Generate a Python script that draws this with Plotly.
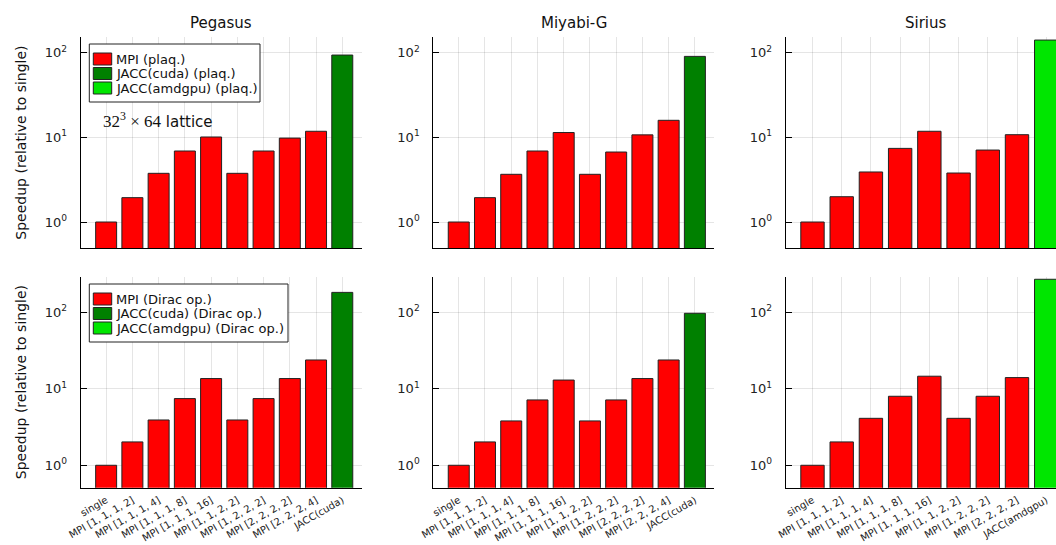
import plotly.graph_objects as go

# ---------------- data ----------------
cats_cuda = ["single", "MPI [1, 1, 1, 2]", "MPI [1, 1, 1, 4]", "MPI [1, 1, 1, 8]",
             "MPI [1, 1, 1, 16]", "MPI [1, 1, 2, 2]", "MPI [1, 2, 2, 2]",
             "MPI [2, 2, 2, 2]", "MPI [2, 2, 2, 4]", "JACC(cuda)"]
cats_amd = ["single", "MPI [1, 1, 1, 2]", "MPI [1, 1, 1, 4]", "MPI [1, 1, 1, 8]",
            "MPI [1, 1, 1, 16]", "MPI [1, 1, 2, 2]", "MPI [1, 2, 2, 2]",
            "MPI [2, 2, 2, 2]", "JACC(amdgpu)"]

titles = ["Pegasus", "Miyabi-G", "Sirius"]

peg_plaq_mpi = [1.0, 1.94, 3.76, 6.9, 10.1, 3.76, 6.9, 9.8, 11.8]
peg_plaq_jacc = [93.8]
miy_plaq_mpi = [1.0, 1.94, 3.66, 6.9, 11.4, 3.66, 6.71, 10.7, 15.9]
miy_plaq_jacc = [90.5]
sir_plaq_mpi = [1.0, 1.99, 3.90, 7.41, 11.8, 3.79, 7.08, 10.75]
sir_plaq_jacc = [141.0]

peg_dirac_mpi = [1.0, 2.02, 3.91, 7.44, 13.6, 3.91, 7.44, 13.6, 23.8]
peg_dirac_jacc = [182.0]
miy_dirac_mpi = [1.0, 2.02, 3.80, 7.15, 13.0, 3.80, 7.15, 13.6, 23.8]
miy_dirac_jacc = [97.0]
sir_dirac_mpi = [1.0, 2.02, 4.11, 7.98, 14.6, 4.11, 7.98, 14.0]
sir_dirac_jacc = [270.0]

legend_plaq = ["MPI (plaq.)", "JACC(cuda) (plaq.)", "JACC(amdgpu) (plaq.)"]
legend_dirac = ["MPI (Dirac op.)", "JACC(cuda) (Dirac op.)", "JACC(amdgpu) (Dirac op.)"]

ytick_vals = [1, 10, 100]
ytick_text = ["10<sup>0</sup>", "10<sup>1</sup>", "10<sup>2</sup>"]

# ---------------- styling ----------------
W, H = 1056, 545
RED = "#FF0000"
GREEN = "#008000"
LIME = "#00E600"
EDGE = "#222222"
GRID = "rgba(0,0,0,0.10)"
FONT = "DejaVu Sans"
legend_colors = [RED, GREEN, LIME]

def fx(p):
    return p / W

def fy(p):
    return 1 - p / H

col_x = [(80.7, 361.7), (433.3, 714.3), (785.7, 1056.0)]
row_y = [(37.3, 248.0), (276.7, 487.7)]
x_ranges = [[-0.97, 9.74], [-0.97, 9.74], [-0.917, 8.335]]
y_ranges = [[-0.307, 2.182], [-0.293, 2.465]]

panels = [
    # (row, col, cats, mpi, jacc, jacc_color, mpi_name, jacc_name)
    (0, 0, cats_cuda, peg_plaq_mpi, peg_plaq_jacc, GREEN, legend_plaq[0], legend_plaq[1]),
    (0, 1, cats_cuda, miy_plaq_mpi, miy_plaq_jacc, GREEN, legend_plaq[0], legend_plaq[1]),
    (0, 2, cats_amd, sir_plaq_mpi, sir_plaq_jacc, LIME, legend_plaq[0], legend_plaq[2]),
    (1, 0, cats_cuda, peg_dirac_mpi, peg_dirac_jacc, GREEN, legend_dirac[0], legend_dirac[1]),
    (1, 1, cats_cuda, miy_dirac_mpi, miy_dirac_jacc, GREEN, legend_dirac[0], legend_dirac[1]),
    (1, 2, cats_amd, sir_dirac_mpi, sir_dirac_jacc, LIME, legend_dirac[0], legend_dirac[2]),
]

fig = go.Figure()
layout = {}
for i, (r, c, cats, mpi, jacc, jcol, mname, jname) in enumerate(panels):
    k = i + 1
    xa = "x" if k == 1 else f"x{k}"
    ya = "y" if k == 1 else f"y{k}"
    fig.add_trace(go.Bar(x=cats[:-1], y=mpi, name=mname, xaxis=xa, yaxis=ya,
                         marker=dict(color=RED, line=dict(color=EDGE, width=1)),
                         width=0.8, showlegend=False))
    fig.add_trace(go.Bar(x=cats[-1:], y=jacc, name=jname, xaxis=xa, yaxis=ya,
                         marker=dict(color=jcol, line=dict(color=EDGE, width=1)),
                         width=0.8, showlegend=False))
    xkey = "xaxis" if k == 1 else f"xaxis{k}"
    ykey = "yaxis" if k == 1 else f"yaxis{k}"
    x0, x1 = col_x[c]
    y0, y1 = row_y[r]
    layout[xkey] = dict(
        domain=[fx(x0), fx(x1)], anchor=ya, type="category", automargin=False,
        categoryorder="array", categoryarray=cats, range=x_ranges[c],
        showline=True, linecolor="black", linewidth=1, mirror=False,
        showgrid=True, gridcolor=GRID, gridwidth=1, zeroline=False,
        ticks="", tickangle=-30, showticklabels=(r == 1), ticklabelstandoff=2,
        tickfont=dict(family=FONT, size=10, color="#222"),
    )
    layout[ykey] = dict(
        domain=[fy(y1), fy(y0)], anchor=xa, type="log", range=y_ranges[r],
        automargin=False, tickvals=ytick_vals, ticktext=ytick_text,
        showline=True, linecolor="black", linewidth=1, mirror=False,
        showgrid=True, gridcolor=GRID, gridwidth=1, zeroline=False,
        ticks="inside", ticklen=6, tickcolor="black", ticklabelstandoff=10,
        tickfont=dict(family=FONT, size=13, color="#222"),
    )

annotations = []
shapes = []
for c, t in enumerate(titles):
    x0, x1 = col_x[c]
    cx = (x0 + x1) / 2 if c < 2 else 926
    annotations.append(dict(text=t, x=fx(cx), y=fy(23), xref="paper", yref="paper",
                            showarrow=False, xanchor="center", yanchor="middle",
                            font=dict(family=FONT, size=15, color="#111")))
for r in range(2):
    y0, y1 = row_y[r]
    annotations.append(dict(text="Speedup (relative to single)", x=fx(21), y=fy((y0 + y1) / 2),
                            xref="paper", yref="paper", showarrow=False, textangle=-90,
                            xanchor="center", yanchor="middle",
                            font=dict(family=FONT, size=14, color="#111")))
annotations.append(dict(
    text='<span style="font-family:Liberation Serif;font-size:17px">32<sup>3</sup> × 64</span> lattice',
    x=fx(101), y=fy(120), xref="paper", yref="paper", showarrow=False,
    xanchor="left", yanchor="middle", font=dict(family=FONT, size=15, color="#111")))

# legends (drawn as boxes + swatches + labels)
legend_boxes = [((89.3, 44.0), (260.0, 102.0), legend_plaq),
                ((89.3, 284.0), (288.0, 342.0), legend_dirac)]
for (bx0, by0), (bx1, by1), labels in legend_boxes:
    shapes.append(dict(type="rect", xref="paper", yref="paper",
                       x0=fx(bx0), x1=fx(bx1), y0=fy(by1), y1=fy(by0),
                       line=dict(color="#222", width=1), fillcolor="white", layer="above"))
    for j, (lab, colr) in enumerate(zip(labels, legend_colors)):
        cy = by0 + 15 + 14.5 * j
        shapes.append(dict(type="rect", xref="paper", yref="paper",
                           x0=fx(93.3), x1=fx(111.7), y0=fy(cy + 6), y1=fy(cy - 6),
                           line=dict(color="#222", width=1), fillcolor=colr, layer="above"))
        annotations.append(dict(text=lab, x=fx(113.5), y=fy(cy), xref="paper", yref="paper",
                                showarrow=False, xanchor="left", yanchor="middle",
                                font=dict(family=FONT, size=13, color="#111")))

fig.update_layout(
    width=W, height=H, margin=dict(l=0, r=0, t=0, b=0),
    paper_bgcolor="white", plot_bgcolor="white",
    barmode="overlay", showlegend=False,
    annotations=annotations, shapes=shapes,
    **layout,
)

fig.write_html("out.html", config={"displayModeBar": False},
               post_script="document.body.style.margin='0';document.body.style.overflow='hidden';")
